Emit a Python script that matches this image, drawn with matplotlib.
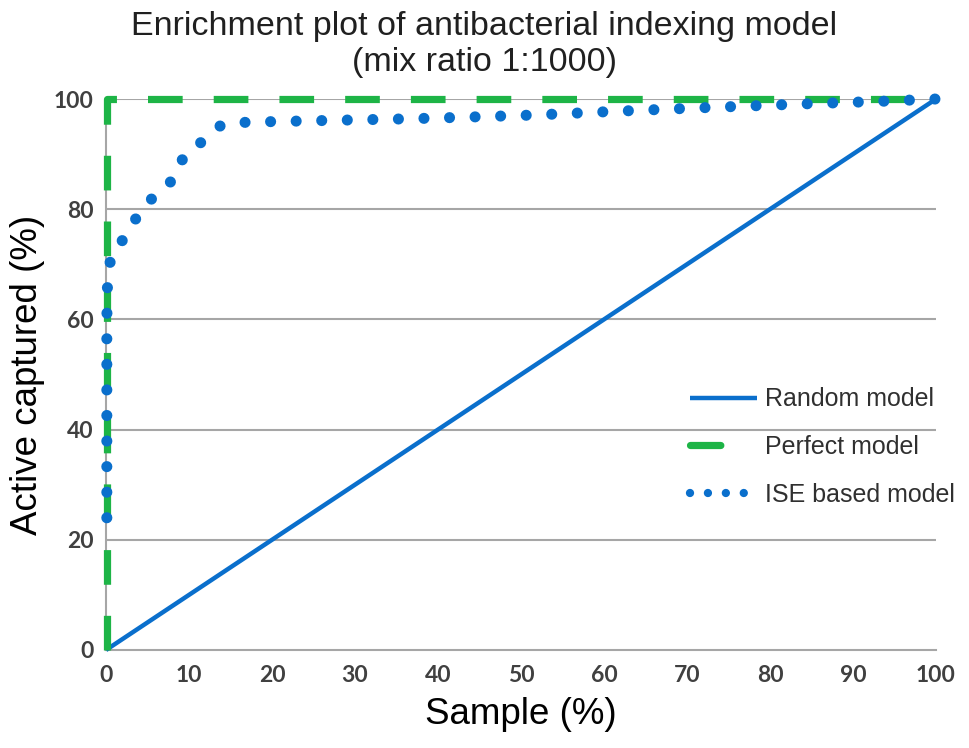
import matplotlib
matplotlib.use("Agg")
import matplotlib.pyplot as plt

# data
random_x = [0, 100]
random_y = [0, 100]

perfect_x = [0.1, 0.1, 100]
perfect_y = [0, 100, 100]

ise_x = [0.1, 0.1, 0.2, 0.7, 2.5, 4.0, 6.0, 8.2, 9.4, 11.6, 13.9, 17.0,
         23.3, 29.6, 36.3, 43.3, 51.7, 61.9, 71.6, 83.9, 93.7, 100]
ise_y = [24, 60, 68, 72, 75.3, 79.4, 82.7, 85.5, 89.7, 92.3, 95.3, 95.8,
         96.0, 96.2, 96.4, 96.7, 97.1, 97.8, 98.4, 99.1, 99.6, 100]

xticks = list(range(0, 101, 10))
yticks = list(range(0, 101, 20))

blue = "#0A6FCC"
green = "#1DB446"
grey = "#A6A6A6"

fig = plt.figure(figsize=(9.69, 7.48), dpi=100)
ax = fig.add_axes([106 / 969, 1 - 650 / 748, 830 / 969, 551 / 748])

for yv in yticks[1:]:
    ax.axhline(yv, color=grey, lw=1.5, zorder=1)

ax.plot(random_x, random_y, color=blue, lw=3.2, label="Random model",
        solid_capstyle="butt", zorder=3, clip_on=False)
ax.plot(perfect_x, perfect_y, color=green, lw=5.2, label="Perfect model",
        linestyle=(0, (4.8, 4.3)), dash_capstyle="butt", zorder=4,
        clip_on=False)
ax.plot(ise_x, ise_y, color=blue, lw=8.0, label="ISE based model",
        linestyle=(0, (0.001, 2.3)), dash_capstyle="round", zorder=5,
        clip_on=False)

ax.set_xlim(0, 100)
ax.set_ylim(0, 100)
ax.set_xticks(xticks)
ax.set_yticks(yticks)
ax.tick_params(length=0, labelsize=16.5, labelcolor="#404040")
ax.tick_params(axis="x", pad=11)
ax.tick_params(axis="y", pad=9)
for lbl in ax.get_xticklabels() + ax.get_yticklabels():
    lbl.set_fontfamily("Lato")
    lbl.set_fontweight("bold")

for s in ["top", "right"]:
    ax.spines[s].set_visible(False)
for s in ["left", "bottom"]:
    ax.spines[s].set_color(grey)
    ax.spines[s].set_linewidth(1.5)

ax.set_xlabel("Sample (%)", fontsize=26.5, family="Liberation Sans", labelpad=8)
ax.set_ylabel("Active captured (%)", fontsize=26.5, family="Liberation Sans",
              labelpad=6)

fig.text(0.5, 1 - 27 / 748, "Enrichment plot of antibacterial indexing model",
         ha="center", va="center", fontsize=24.5, family="Liberation Sans",
         color="#202020")
fig.text(0.5, 1 - 63 / 748, "(mix ratio 1:1000)",
         ha="center", va="center", fontsize=24.5, family="Liberation Sans",
         color="#202020")

leg = ax.legend(loc="center left", bbox_to_anchor=(0.7036, 0.368),
                frameon=False, prop={"family": "Liberation Sans", "size": 18},
                handlelength=2.7, handletextpad=0.3, labelspacing=0.95,
                borderpad=0, borderaxespad=0)
for t in leg.get_texts():
    t.set_color("#303030")
# legend swatches drawn like the reference: one short green dash, four small dots
hl = leg.get_lines()
hl[1].set_linestyle((0, (4.2, 20)))
hl[1].set_solid_capstyle("round")
hl[1].set_dash_capstyle("round")
hl[2].set_linewidth(6)
hl[2].set_linestyle((0, (0.001, 2.15)))

fig.savefig("out.png", dpi=100)
